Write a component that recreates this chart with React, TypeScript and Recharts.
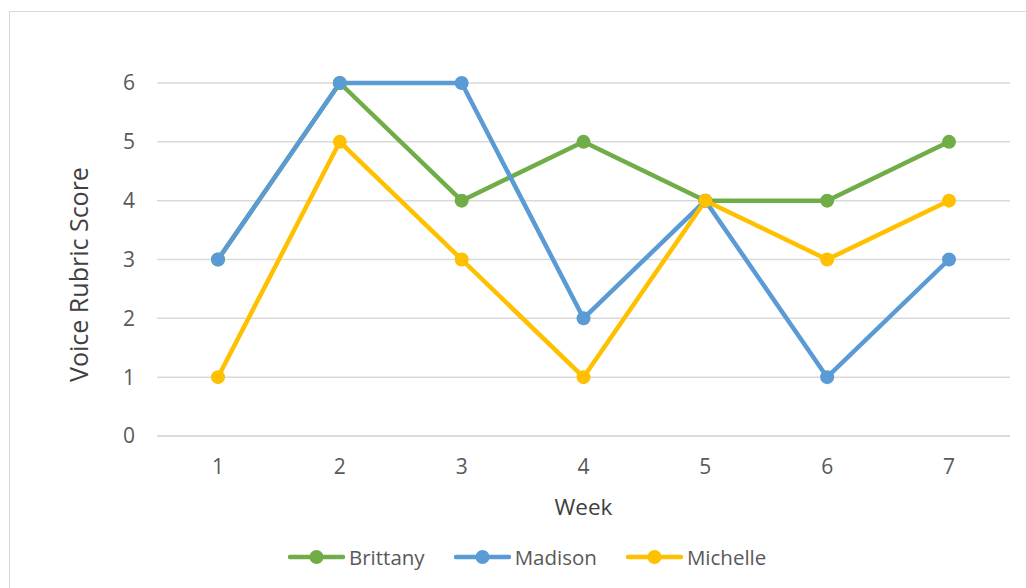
import { LineChart, Line, XAxis, YAxis, CartesianGrid, Label } from "recharts"

const weeks = ["1", "2", "3", "4", "5", "6", "7"]
const brittany = [3, 6, 4, 5, 4, 4, 5]
const madison = [3, 6, 6, 2, 4, 1, 3]
const michelle = [1, 5, 3, 1, 4, 3, 4]
const yTicks = [0, 1, 2, 3, 4, 5, 6]

const series = [
  { key: "Brittany", color: "#70AD47" },
  { key: "Madison", color: "#5B9BD5" },
  { key: "Michelle", color: "#FFC000" },
]

const data = weeks.map((week, i) => ({
  week,
  Brittany: brittany[i],
  Madison: madison[i],
  Michelle: michelle[i],
}))

const font = "'Open Sans', sans-serif"

function YTitle(props: any) {
  const { viewBox } = props
  const cx = viewBox.x - 19
  const cy = viewBox.y + viewBox.height / 2 + 15
  return (
    <text
      x={cx}
      y={cy}
      transform={`rotate(-90 ${cx} ${cy})`}
      textAnchor="middle"
      dominantBaseline="central"
      fill="#404040"
      fontSize={25}
      fontFamily={font}
    >
      Voice Rubric Score
    </text>
  )
}

function XTitle(props: any) {
  const { viewBox } = props
  return (
    <text
      x={viewBox.x + viewBox.width / 2}
      y={viewBox.y + 79}
      textAnchor="middle"
      fill="#404040"
      fontSize={22.5}
      fontFamily={font}
    >
      Week
    </text>
  )
}

function ChartLegend() {
  return (
    <div
      style={{
        position: "absolute",
        left: 288,
        top: 545,
        display: "flex",
        alignItems: "center",
        gap: 29,
        fontFamily: font,
        fontSize: 20.5,
        color: "#595959",
      }}
    >
      {series.map((s) => (
        <div key={s.key} style={{ display: "flex", alignItems: "center" }}>
          <svg width={57} height={16} style={{ marginRight: 4 }}>
            <line x1={2} y1={8} x2={55} y2={8} stroke={s.color} strokeWidth={4.5} strokeLinecap="round" />
            <circle cx={28.5} cy={8} r={7} fill={s.color} />
          </svg>
          <span style={{ lineHeight: "24px" }}>{s.key}</span>
        </div>
      ))}
    </div>
  )
}

export default function App() {
  return (
    <div
      style={{
        position: "absolute",
        left: 0,
        top: 0,
        width: 1026,
        height: 588,
        overflow: "hidden",
        background: "#fff",
        fontFamily: font,
      }}
    >
      <div
        style={{
          position: "absolute",
          left: 9,
          top: 11,
          width: 1100,
          height: 700,
          border: "1.5px solid #D9D9D9",
        }}
      />
      <LineChart
        width={1026}
        height={588}
        data={data}
        margin={{ top: 83, right: 16, bottom: 82, left: 97 }}
        style={{ position: "absolute", left: 0, top: 0 }}
      >
        <CartesianGrid vertical={false} stroke="#D9D9D9" strokeWidth={1.5} />
        <XAxis
          dataKey="week"
          height={70}
          padding={{ left: 61, right: 61 }}
          axisLine={{ stroke: "#D9D9D9", strokeWidth: 1.5 }}
          tickLine={false}
          tickSize={0}
          tickMargin={23}
          tick={{ fontSize: 21, fill: "#595959", fontFamily: font }}
        >
          <Label content={<XTitle />} />
        </XAxis>
        <YAxis
          width={60}
          domain={[0, 6]}
          ticks={yTicks}
          axisLine={false}
          tickLine={false}
          tickSize={0}
          tickMargin={22}
          tick={{ fontSize: 21, fill: "#595959", fontFamily: font }}
        >
          <Label content={<YTitle />} />
        </YAxis>
        {series.map((s) => (
          <Line
            key={s.key}
            type="linear"
            dataKey={s.key}
            stroke={s.color}
            strokeWidth={4.5}
            strokeLinejoin="round"
            dot={{ r: 7, fill: s.color, stroke: s.color, strokeWidth: 0 }}
            activeDot={false}
            isAnimationActive={false}
          />
        ))}
      </LineChart>
      <ChartLegend />
    </div>
  )
}
